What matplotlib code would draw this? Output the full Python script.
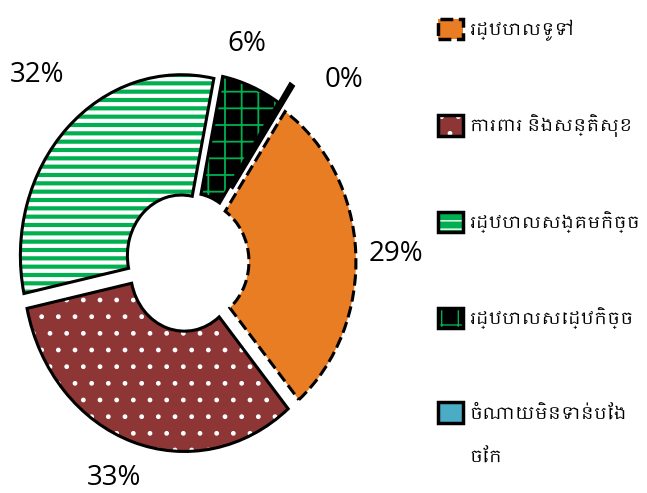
import matplotlib
matplotlib.use('Agg')
import matplotlib.pyplot as plt
from matplotlib import font_manager
from matplotlib.patches import Patch
import numpy as np

# data
labels = ['រដ្ឋបាលទូទៅ', 'ការពារ និងសន្តិសុខ', 'រដ្ឋបាលសង្គមកិច្ច',
          'រដ្ឋបាលសេដ្ឋកិច្ច', 'ចំណាយមិនទាន់បែង\nចែក']
shares = [29.4, 32.8, 31.6, 6.0, 0.2]
colors = ['#E87D23', '#8E3535', '#00B050', '#000000', '#4BACC6']
hatches = ['', '.', '--', '+', '']
hatch_colors = ['#E87D23', 'white', 'white', '#00B050', '#4BACC6']
hatch_lw = [1, 1, 3.0, 1.3, 1]
edge_styles = ['--', '-', '-', '-', '-']

names = sorted(set(f.name for f in font_manager.fontManager.ttflist))
khmer = [n for n in names if 'Khmer' in n]
fams = khmer + ['DejaVu Sans']


def with_hatch_lw(artist, lw):
    # hatch width is taken from rcParams when the artist is drawn
    orig = artist.draw

    def draw(renderer):
        with plt.rc_context({'hatch.linewidth': lw}):
            if hasattr(artist, '_hatch_linewidth'):
                artist._hatch_linewidth = lw
            orig(renderer)
    artist.draw = draw


fig = plt.figure(figsize=(6.47, 4.93), dpi=100)
# stretched ring: ~161 px per unit across, ~181 px per unit down
ax = fig.add_axes([10 / 647, 32 / 493, 354 / 647, 398 / 493])

explode = [0.05, 0.05, 0.05, 0.05, 0.17]
start = 56

wedges, _ = ax.pie(shares, colors=colors, explode=explode, startangle=start,
                   counterclock=False, radius=1,
                   wedgeprops=dict(width=0.665, linewidth=0))
for w, h, hc, hl in zip(wedges, hatches, hatch_colors, hatch_lw):
    w.set_hatch(h)
    w.set_edgecolor(hc)
    with_hatch_lw(w, hl)

outl, _ = ax.pie(shares, colors=['white'] * len(shares), explode=explode, startangle=start,
                 counterclock=False, radius=1,
                 wedgeprops=dict(width=0.665, linewidth=2.2, edgecolor='black'))
for w, ls in zip(outl, edge_styles):
    w.set_fill(False)
    w.set_linestyle(ls)
outl[-1].set_linewidth(3.5)

ax.set_aspect('auto')
ax.set_xlim(-1.1, 1.1)
ax.set_ylim(-1.1, 1.1)
ax.axis('off')

# percent labels around the ring
label_r = [1.30, 1.27, 1.40, 1.27, 1.41]
label_dang = [-0.7, -2.1, -3.4, 5.4, -10.1]
for w, s, r, da in zip(wedges, shares, label_r, label_dang):
    ang = np.deg2rad((w.theta1 + w.theta2) / 2 + da)
    ax.text(r * np.cos(ang), r * np.sin(ang) - 0.01, f'{round(s):.0f}%',
            ha='center', va='center', fontsize=20, family=['Open Sans', 'DejaVu Sans'])

handles = []
for c, h, hc, ls in zip(colors, hatches, hatch_colors, edge_styles):
    fill = Patch(facecolor=c, edgecolor=hc, hatch=h, linewidth=0)
    border = Patch(facecolor='none', edgecolor='black', linewidth=2.5, linestyle=ls)
    handles.append((fill, border))

# legend shows the first line of each name; a wrapped remainder goes under it
first_lines = [l.split('\n')[0] for l in labels]
leg = fig.legend(handles, first_lines, loc='upper left', bbox_to_anchor=(422 / 647, 1 - 3 / 493),
                 frameon=False, handlelength=1.45, handleheight=1.45,
                 handletextpad=0.4, labelspacing=4.25, prop=dict(family=fams, size=12.5))

fig.canvas.draw()
for txt, full in zip(leg.get_texts(), labels):
    rest = full.split('\n')[1:]
    if rest:
        bb = txt.get_window_extent()
        fig.text(bb.x0 / 647, (bb.y0 - 44) / 493, '\n'.join(rest),
                 fontsize=12.5, family=fams, ha='left', va='bottom')

fig.savefig('out.png', dpi=100)
